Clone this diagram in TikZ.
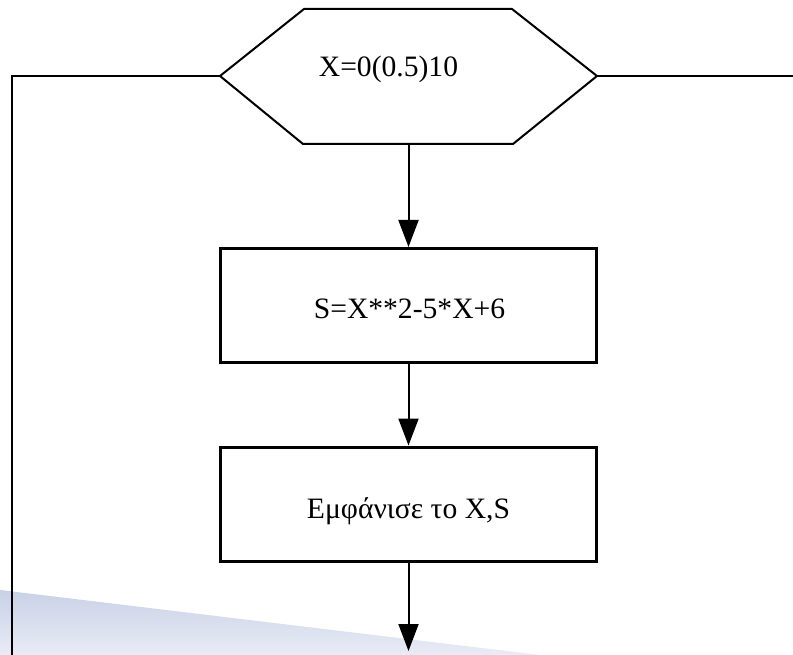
\documentclass[tikz,border=0pt]{standalone}
\usepackage{fontspec}
\setmainfont{Liberation Serif}
\usetikzlibrary{arrows.meta}
\definecolor{wedgetop}{HTML}{C9D1E6}
\definecolor{wedgebottom}{HTML}{E9ECF6}
\begin{document}
\begin{tikzpicture}[x=1pt,y=-1pt,
  box/.style={draw, line width=3pt, minimum width=376pt, minimum height=114pt, inner sep=0pt},
  thinline/.style={line width=2pt},
  flow/.style={line width=2pt, -{Triangle[width=20pt,length=27pt]}},
  lbl/.style={font=\fontsize{29.6}{31}\selectfont, anchor=base, inner sep=0pt}]
\useasboundingbox (0,0) rectangle (793,655);

% shaded wedge along the bottom edge
\shade[top color=wedgetop, bottom color=wedgebottom] (0,590) -- (540,655) -- (0,655) -- cycle;

% loop hexagon
\coordinate (hl)  at (220,76);
\coordinate (htl) at (304,9);
\coordinate (htr) at (512,9);
\coordinate (hr)  at (597,76);
\coordinate (hbr) at (513,144);
\coordinate (hbl) at (303,144);
\coordinate (hb)  at (408.5,144);
\draw[thinline, line join=miter] (hl) -- (htl) -- (htr) -- (hr) -- (hbr) -- (hbl) -- cycle;
\node[lbl] (loop) at (388.5,77) {X=0(0.5)10};

% process boxes
\node[box] (calc) at (408.5,305.5) {};
\node[lbl] (calctext) at (409.5,319) {S=X**2-5*X+6};
\node[box] (show) at (408.5,504) {};
\node[lbl] (showtext) at (408.5,518) {Εμφάνισε το X,S};

% flow arrows
\coordinate (end) at (408.5,651);
\draw[flow] (hb) -- (calc.north);
\draw[flow] (calc.south) -- (show.north);
\draw[flow] (show.south) -- (end);

% loop-back lines
\coordinate (lc) at (12,76);
\coordinate (lb) at (12,655);
\coordinate (re) at (793,76);
\draw[thinline] (hl) -- (lc) -- (lb);
\draw[thinline] (hr) -- (re);
\end{tikzpicture}
\end{document}
